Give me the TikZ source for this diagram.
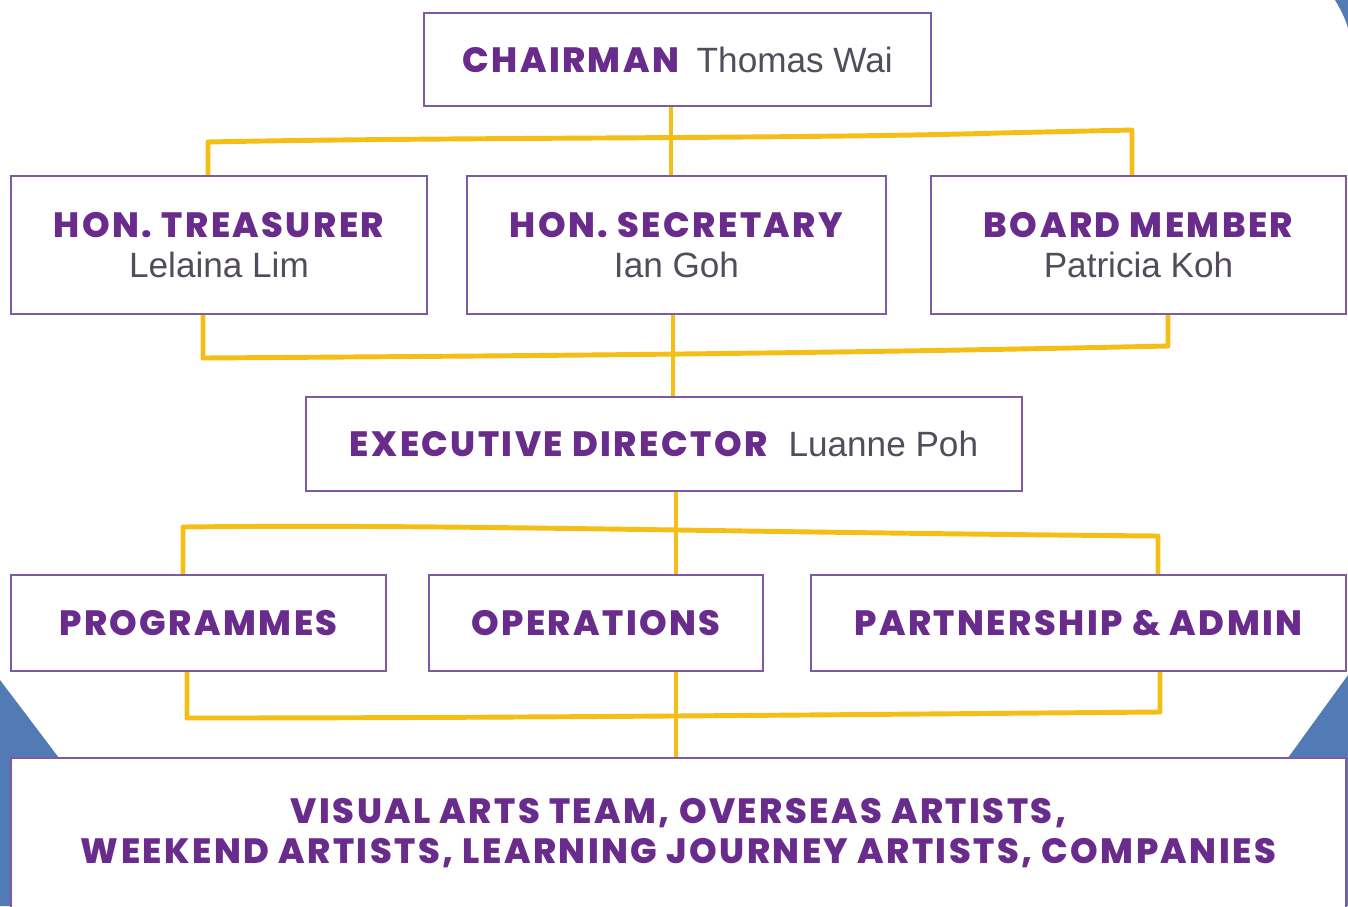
\documentclass[tikz,border=0pt]{standalone}
\usepackage{fontspec}
\setmainfont{Liberation Sans}
\newfontfamily\headfont[LetterSpace=7, BoldFont={Poppins ExtraBold}]{Poppins}
\usetikzlibrary{calc}
\definecolor{boxpurple}{RGB}{128,90,160}
\definecolor{headpurple}{RGB}{106,44,140}
\definecolor{namegray}{RGB}{82,76,92}
\definecolor{linkyellow}{RGB}{245,190,22}
\definecolor{cornerblue}{RGB}{82,122,180}
\newcommand{\role}[1]{{\headfont\bfseries\color{headpurple}#1}}
\newcommand{\who}[1]{{\color{namegray}#1}}

\begin{document}
\begin{tikzpicture}[
    x=0.02cm, y=-0.02cm,
    post/.style={draw=boxpurple, line width=1.2pt, fill=white, inner sep=0pt, align=center, font=\fontsize{20}{22.7}\selectfont},
    link/.style={draw=linkyellow, line width=2.8pt, line join=round}
]
    \clip (0,0) rectangle (1348,906);
    \fill[white] (0,0) rectangle (1348,906);
    % Blue corners of the backdrop
    \fill[cornerblue] (0,680) -- (62,762) -- (62,906) -- (0,906) -- cycle;
    \fill[cornerblue] (1348,675) -- (1285,762) -- (1285,906) -- (1348,906) -- cycle;
    \fill[cornerblue] (1335,0) .. controls (1341,10) and (1345,18) .. (1348,28) -- (1348,0) -- cycle;

    % Board
    \node[post, minimum width=10.14cm, minimum height=1.86cm] (chair) at (677.5,59.5) {\role{CHAIRMAN}\hspace{0.5em}\who{Thomas Wai}};
    \node[post, minimum width=8.32cm, minimum height=2.76cm] (treas) at (219,245) {\role{HON. TREASURER}\\\who{Lelaina Lim}};
    \node[post, minimum width=8.38cm, minimum height=2.76cm] (secy) at (676.5,245) {\role{HON. SECRETARY}\\\who{Ian Goh}};
    \node[post, minimum width=8.30cm, minimum height=2.76cm] (board) at (1138.5,245) {\role{BOARD MEMBER}\\\who{Patricia Koh}};

    % Staff
    \node[post, minimum width=14.32cm, minimum height=1.88cm] (exec) at (664,444) {\role{EXECUTIVE DIRECTOR}\hspace{0.6em}\who{Luanne Poh}};
    \node[post, minimum width=7.5cm, minimum height=1.92cm] (prog) at (198.5,623) {\role{PROGRAMMES}};
    \node[post, minimum width=6.68cm, minimum height=1.92cm] (ops) at (596,623) {\role{OPERATIONS}};
    \node[post, minimum width=10.7cm, minimum height=1.92cm] (part) at (1078.5,623) {\role{PARTNERSHIP \& ADMIN}};
    \node[post, minimum width=26.7cm, minimum height=3cm] (team) at (678.5,833) {\role{VISUAL ARTS TEAM, OVERSEAS ARTISTS,}\\\role{WEEKEND ARTISTS, LEARNING JOURNEY ARTISTS, COMPANIES}};

    % Brackets
    \coordinate (b1l) at (208,142);
    \coordinate (b1r) at (1132,130);
    \coordinate (b2l) at (203,358);
    \coordinate (b2r) at (1168,346);
    \coordinate (b3l) at (183,527);
    \coordinate (b3r) at (1158,536);
    \coordinate (b4l) at (187,718);
    \coordinate (b4r) at (1160,712);
    \coordinate (spine) at (676,0);

    \draw[link] (chair.south -| 671,0) -- (secy.north -| 671,0);
    \draw[link] (b1l |- treas.north) -- (b1l) .. controls (450,137) and (800,139) .. (1000,133) -- (b1r) -- (b1r |- board.north);

    \draw[link] (secy.south -| 673,0) -- (exec.north -| 673,0);
    \draw[link] (b2l |- treas.south) -- (b2l) .. controls (500,356) and (800,354) .. (b2r) -- (b2r |- board.south);

    \draw[link] (exec.south -| spine) -- (ops.north -| spine);
    \draw[link] (b3l |- prog.north) -- (b3l) .. controls (450,524) and (700,532) .. (b3r) -- (b3r |- part.north);

    \draw[link] (ops.south -| spine) -- (team.north -| spine);
    \draw[link] (b4l |- prog.south) -- (b4l) .. controls (500,718) and (800,715) .. (b4r) -- (b4r |- part.south);
\end{tikzpicture}
\end{document}
